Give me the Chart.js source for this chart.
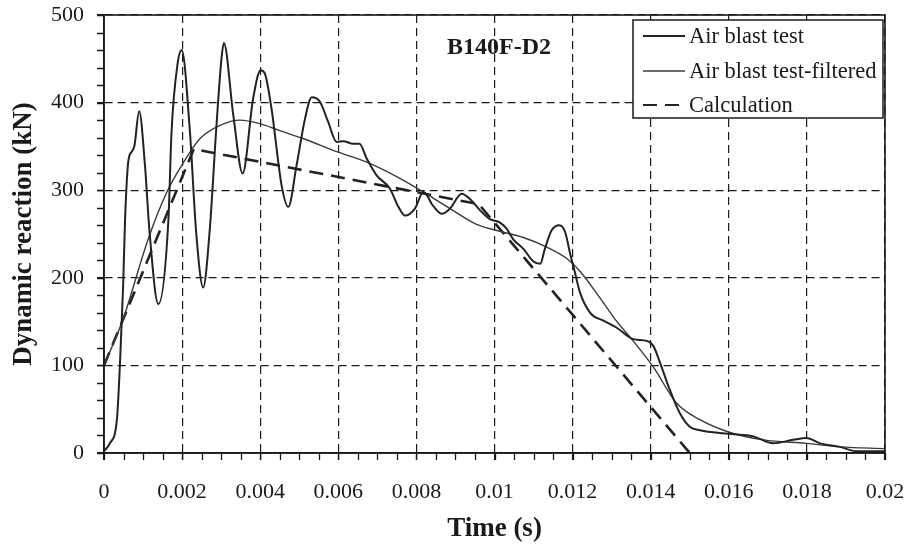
<!DOCTYPE html>
<html>
<head>
<meta charset="utf-8">
<script src="https://cdn.jsdelivr.net/npm/chart.js@4.4.0/dist/chart.umd.min.js"></script>
<style>
  html, body { margin: 0; padding: 0; background: #fff; }
  #chart { display: block; }
</style>
</head>
<body>
<canvas id="chart" width="910" height="548"></canvas>
<script>
// Air blast test (raw signal)
const rawTime = [0, 0.00015, 0.00033, 0.00041, 0.00049, 0.00054, 0.00062, 0.00071, 0.00078, 0.0009,
  0.00105, 0.00116, 0.00139, 0.00165, 0.00173, 0.00188, 0.00199, 0.0022, 0.00236, 0.00254,
  0.00271, 0.00287, 0.00301, 0.00307, 0.00331, 0.00355, 0.00382, 0.00401, 0.00412, 0.00429,
  0.00455, 0.00472, 0.00493, 0.00515, 0.00532, 0.00553, 0.00574, 0.00596, 0.00613, 0.00638,
  0.00654, 0.00673, 0.00698, 0.00732, 0.00754, 0.00771, 0.00796, 0.00818, 0.00843, 0.00865,
  0.00886, 0.00916, 0.00937, 0.00963, 0.00988, 0.01014, 0.01031, 0.01048, 0.01074, 0.01099,
  0.01117, 0.01129, 0.01146, 0.01166, 0.01181, 0.01193, 0.01206, 0.01219, 0.01245, 0.01279,
  0.01313, 0.01355, 0.0139, 0.01407, 0.01424, 0.01449, 0.01475, 0.015, 0.01526, 0.01599,
  0.01663, 0.01714, 0.01765, 0.01799, 0.01834, 0.01885, 0.01927, 0.02];
const rawForce = [2, 11, 38, 103, 191, 267, 332, 344, 351, 390,
  328, 256, 170, 267, 367, 443, 460, 367, 252, 189,
  256, 367, 451, 468, 386, 319, 405, 437, 433, 393,
  305, 281, 328, 382, 406, 401, 378, 355, 356, 353,
  353, 336, 317, 302, 281, 271, 279, 298, 282, 273,
  279, 296, 290, 277, 267, 263, 256, 244, 233, 219,
  216, 233, 254, 260, 252, 229, 206, 183, 160, 151,
  143, 130, 128, 122, 103, 72, 45, 30, 26, 22,
  19, 11, 15, 17, 11, 7, 2, 2];

// Air blast test-filtered
const filtTime = [0, 0.00049, 0.00113, 0.00161, 0.00204, 0.00246, 0.00297, 0.00348, 0.00399, 0.0045,
  0.0051, 0.00596, 0.00673, 0.0076, 0.0081, 0.00886, 0.00954, 0.01006, 0.01074, 0.01134,
  0.01185, 0.0122, 0.0127, 0.0131, 0.01355, 0.01407, 0.01466, 0.01526, 0.01599, 0.01689,
  0.01799, 0.01885, 0.02];
const filtForce = [100, 153, 244, 298, 332, 359, 374, 380, 376, 368,
  359, 344, 332, 313, 300, 279, 261, 254, 246, 235,
  222, 207, 177, 152, 128, 98, 57, 38, 24, 15,
  11, 7, 5];

// Calculation
const calcTime = [0, 0.0023, 0.0096, 0.015];
const calcForce = [100, 347, 284, 0];

const xTicks = [0, 0.002, 0.004, 0.006, 0.008, 0.01, 0.012, 0.014, 0.016, 0.018, 0.02];
const yTicks = [0, 100, 200, 300, 400, 500];

const toPoints = (xs, ys) => xs.map((x, i) => ({ x: x, y: ys[i] }));

const serif = '"Liberation Serif", "Times New Roman", serif';
const ink = '#1a1a1a';

// minor ticks, frame, title text and legend box
const decorPlugin = {
    id: 'decor',
    afterDraw(chart) {
        const ctx = chart.ctx;
        const area = chart.chartArea;
        const xs = chart.scales.x;
        const ys = chart.scales.y;

        ctx.save();
        ctx.strokeStyle = ink;
        ctx.lineWidth = 1.3;
        ctx.setLineDash([]);

        // minor ticks
        ctx.beginPath();
        for (let i = 0; i <= 40; i++) {
            const px = Math.round(xs.getPixelForValue(i * 0.0005)) + 0.5;
            ctx.moveTo(px, area.bottom);
            ctx.lineTo(px, area.bottom + 7);
        }
        for (let v = 0; v <= 500; v += 20) {
            const py = Math.round(ys.getPixelForValue(v)) + 0.5;
            ctx.moveTo(area.left - 7, py);
            ctx.lineTo(area.left, py);
        }
        ctx.stroke();

        // frame
        ctx.lineWidth = 1.6;
        ctx.strokeRect(area.left, area.top, area.right - area.left, area.bottom - area.top);

        // specimen label
        ctx.fillStyle = ink;
        ctx.font = 'bold 24px ' + serif;
        ctx.textAlign = 'center';
        ctx.textBaseline = 'middle';
        ctx.fillText('B140F-D2', 499, 48);

        // legend
        const lx = 633, ly = 20, lw = 250, lh = 98;
        ctx.fillStyle = '#fff';
        ctx.fillRect(lx, ly, lw, lh);
        ctx.lineWidth = 1.5;
        ctx.strokeRect(lx, ly, lw, lh);
        ctx.font = '22.5px ' + serif;
        ctx.textAlign = 'left';
        const rows = [36, 71, 105];
        chart.data.datasets.forEach((ds, i) => {
            const y = rows[i];
            ctx.beginPath();
            ctx.strokeStyle = ds.borderColor;
            ctx.lineWidth = Math.min(ds.borderWidth, 2);
            ctx.setLineDash(ds.borderDash || []);
            ctx.moveTo(643, y);
            ctx.lineTo(685, y);
            ctx.stroke();
            ctx.fillStyle = ink;
            ctx.fillText(ds.label, 689, y + 1);
        });
        ctx.restore();
    }
};

new Chart(document.getElementById('chart'), {
    type: 'line',
    data: {
        datasets: [
            {
                label: 'Air blast test',
                data: toPoints(rawTime, rawForce),
                borderColor: '#222',
                borderWidth: 2,
                pointRadius: 0,
                cubicInterpolationMode: 'monotone',
                fill: false
            },
            {
                label: 'Air blast test-filtered',
                data: toPoints(filtTime, filtForce),
                borderColor: '#3a3a3a',
                borderWidth: 1.4,
                pointRadius: 0,
                cubicInterpolationMode: 'monotone',
                fill: false
            },
            {
                label: 'Calculation',
                data: toPoints(calcTime, calcForce),
                borderColor: '#222',
                borderWidth: 2.6,
                borderDash: [14, 8],
                pointRadius: 0,
                tension: 0,
                fill: false
            }
        ]
    },
    options: {
        responsive: false,
        animation: false,
        devicePixelRatio: 1,
        layout: { padding: { left: 0, right: 25, top: 15, bottom: 0 } },
        plugins: {
            legend: { display: false },
            tooltip: { enabled: false }
        },
        scales: {
            x: {
                type: 'linear',
                min: 0,
                max: 0.02,
                afterBuildTicks: scale => { scale.ticks = xTicks.map(v => ({ value: v })); },
                afterFit: scale => {
                    scale.height = 95;
                    scale.paddingLeft = 0;
                    scale.paddingRight = 0;
                },
                ticks: {
                    autoSkip: false,
                    maxRotation: 0,
                    padding: 19,
                    color: ink,
                    font: { family: serif, size: 22 },
                    callback: v => String(Number(v.toFixed(4)))
                },
                grid: {
                    color: ink,
                    lineWidth: 1.2,
                    tickLength: 7,
                    tickColor: ink,
                    tickWidth: 1.3,
                    tickBorderDash: []
                },
                border: { display: true, color: ink, width: 1.6, dash: [8, 5] },
                title: {
                    display: true,
                    text: 'Time (s)',
                    color: ink,
                    font: { family: serif, size: 27, weight: 'bold' },
                    padding: { top: 0, bottom: 3 }
                }
            },
            y: {
                type: 'linear',
                min: 0,
                max: 500,
                afterBuildTicks: scale => { scale.ticks = yTicks.map(v => ({ value: v })); },
                afterFit: scale => {
                    scale.width = 104;
                    scale.paddingTop = 0;
                    scale.paddingBottom = 0;
                },
                ticks: {
                    padding: 13,
                    color: ink,
                    font: { family: serif, size: 22 }
                },
                grid: {
                    color: ink,
                    lineWidth: 1.2,
                    tickLength: 7,
                    tickColor: ink,
                    tickWidth: 1.3,
                    tickBorderDash: []
                },
                border: { display: true, color: ink, width: 1.6, dash: [8, 5] },
                title: {
                    display: true,
                    text: 'Dynamic reaction (kN)',
                    color: ink,
                    font: { family: serif, size: 27, weight: 'bold' },
                    padding: { top: 8, bottom: 0 }
                }
            }
        }
    },
    plugins: [decorPlugin]
});
</script>
</body>
</html>
